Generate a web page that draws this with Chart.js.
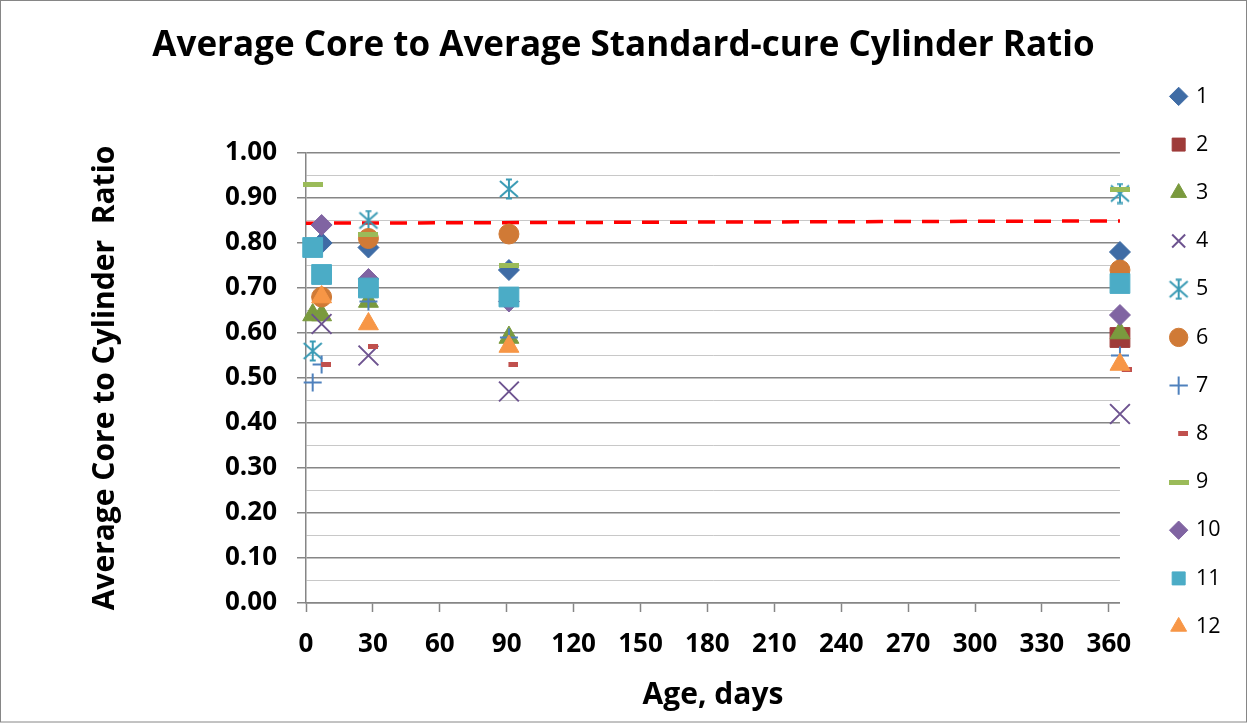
<!DOCTYPE html>
<html>
<head>
<meta charset="utf-8">
<title>Average Core to Average Standard-cure Cylinder Ratio</title>
<script src="https://cdn.jsdelivr.net/npm/chart.js@4/dist/chart.umd.min.js"></script>
<style>
  html, body { margin: 0; padding: 0; background: #fff; }
  canvas { display: block; }
</style>
</head>
<body>
<canvas id="chartRatio" width="1247" height="723"></canvas>
<script>
//* DATOS
const seriesLabels = ['1', '2', '3', '4', '5', '6', '7', '8', '9', '10', '11', '12'];
const age1 = [7, 28, 91, 365];         const ratio1 = [0.80, 0.79, 0.74, 0.78];
const age2 = [365];                    const ratio2 = [0.59];
const age3 = [3, 7, 28, 91, 365];      const ratio3 = [0.64, 0.64, 0.67, 0.59, 0.60];
const age4 = [7, 28, 91, 365];         const ratio4 = [0.62, 0.55, 0.47, 0.42];
const age5 = [3, 28, 91, 365];         const ratio5 = [0.56, 0.85, 0.92, 0.91];
const age6 = [7, 28, 91, 365];         const ratio6 = [0.68, 0.81, 0.82, 0.74];
const age7 = [3, 7, 28, 91, 365];      const ratio7 = [0.49, 0.53, 0.67, 0.59, 0.55];
const age8 = [7, 28, 91, 366];         const ratio8 = [0.53, 0.57, 0.53, 0.52];
const age9 = [3, 28, 91, 365];         const ratio9 = [0.93, 0.82, 0.75, 0.92];
const age10 = [7, 28, 91, 365];        const ratio10 = [0.84, 0.72, 0.67, 0.64];
const age11 = [3, 7, 28, 91, 365];     const ratio11 = [0.79, 0.73, 0.70, 0.68, 0.71];
const age12 = [7, 28, 91, 365];        const ratio12 = [0.68, 0.62, 0.57, 0.53];
const trendAge = [0, 365];             const trendRatio = [0.844, 0.849];

const colors = ['#3F6CA5', '#9E3B39', '#7A9A3E', '#6E5490', '#3A9BB5', '#D07A36',
                '#4F81BD', '#C0504D', '#9BBB59', '#8064A2', '#4BACC6', '#F79646'];
const gridMajor = '#868686';
const gridMinor = '#c8c8c8';
const fontFamily = "'Open Sans', 'DejaVu Sans', sans-serif";

const toPoints = (ages, ratios) => ages.map((a, i) => ({ x: a, y: ratios[i] }));
const isMajor = (v) => Math.round(v * 100) % 10 === 0;

// marcadores que Chart.js no tiene
const makeMarker = (w, h, draw) => {
    const c = document.createElement('canvas');
    c.width = w;
    c.height = h;
    draw(c.getContext('2d'));
    return c;
};
const starMarker = makeMarker(22, 22, (ctx) => {
    ctx.strokeStyle = colors[4];
    ctx.lineWidth = 2;
    ctx.beginPath();
    ctx.moveTo(2, 3); ctx.lineTo(20, 19);
    ctx.moveTo(20, 3); ctx.lineTo(2, 19);
    ctx.moveTo(11, 1); ctx.lineTo(11, 21);
    ctx.moveTo(8, 1.5); ctx.lineTo(14, 1.5);
    ctx.moveTo(8, 20.5); ctx.lineTo(14, 20.5);
    ctx.stroke();
});
// el guion de la serie 8 sale corrido a la derecha, como en Excel
const dashSmall = makeMarker(19, 5, (ctx) => { ctx.fillStyle = colors[7]; ctx.fillRect(9, 0, 10, 5); });
const dashLong = makeMarker(20, 5, (ctx) => { ctx.fillStyle = colors[8]; ctx.fillRect(0, 0, 20, 5); });

const ages = [age1, age2, age3, age4, age5, age6, age7, age8, age9, age10, age11, age12];
const ratios = [ratio1, ratio2, ratio3, ratio4, ratio5, ratio6, ratio7, ratio8, ratio9, ratio10, ratio11, ratio12];
const markers = [
    { pointStyle: 'rectRot', radius: 10.5 },
    { pointStyle: 'rect', radius: 14 },
    { pointStyle: 'triangle', radius: 11.5 },
    { pointStyle: 'crossRot', radius: 14, width: 2 },
    { pointStyle: starMarker, radius: 11 },
    { pointStyle: 'circle', radius: 10 },
    { pointStyle: 'cross', radius: 9, width: 2 },
    { pointStyle: dashSmall, radius: 5 },
    { pointStyle: dashLong, radius: 10 },
    { pointStyle: 'rectRot', radius: 10.5 },
    { pointStyle: 'rect', radius: 14 },
    { pointStyle: 'triangle', radius: 11.5 }
];

let datasets = seriesLabels.map((label, i) => ({
    label: label,
    data: toPoints(ages[i], ratios[i]),
    backgroundColor: colors[i],
    borderColor: colors[i],
    borderWidth: markers[i].width || 1,
    pointStyle: markers[i].pointStyle,
    pointRadius: markers[i].radius,
    pointBorderWidth: markers[i].width || 1,
    order: 12 - i,
    clip: false
}));
datasets.push({
    type: 'line',
    label: 'Trend',
    data: toPoints(trendAge, trendRatio),
    borderColor: '#FF0000',
    borderWidth: 3.5,
    borderDash: [17, 11],
    pointRadius: 0,
    order: 100,
    clip: false
});

// hueco entre el area del grafico y la leyenda
const legendGap = {
    id: 'legendGap',
    beforeLayout(chart, args, opts) {
        const lg = chart.legend;
        if (lg && !lg._gapWrapped) {
            const fit = lg.fit;
            lg.fit = function () { fit.call(this); this.width += opts.gap; };
            lg._gapWrapped = true;
        }
    },
    afterLayout(chart, args, opts) {
        const lg = chart.legend;
        if (lg) { lg.left += opts.gap; lg.right += opts.gap; }
    }
};
const chartFrame = {
    id: 'chartFrame',
    afterDraw(chart) {
        const c = chart.ctx;
        c.save();
        c.strokeStyle = gridMajor;
        c.lineWidth = 1;
        c.strokeRect(0.5, 0.5, chart.width - 1, chart.height - 1.5);
        c.restore();
    }
};

Chart.defaults.font.family = fontFamily;
Chart.defaults.color = '#000';

const ctxRatio = document.getElementById('chartRatio');
new Chart(ctxRatio, {
    type: 'scatter',
    data: { datasets },
    options: {
        responsive: false,
        animation: false,
        layout: { padding: { left: 16.5, right: 16.5 } },
        plugins: {
            legendGap: { gap: 25.5 },
            title: {
                display: true,
                text: 'Average Core to Average Standard-cure Cylinder Ratio',
                color: '#000',
                font: { size: 35, weight: 'bold' },
                padding: { top: 25, bottom: 86 }
            },
            legend: {
                position: 'right',
                align: 'center',
                labels: {
                    usePointStyle: true,
                    boxWidth: 13,
                    boxHeight: 13,
                    padding: 26.7,
                    color: '#000',
                    font: { size: 21.5 },
                    filter: (item) => item.text !== 'Trend',
                    sort: (a, b) => a.datasetIndex - b.datasetIndex
                }
            },
            tooltip: { enabled: false }
        },
        scales: {
            x: {
                type: 'linear',
                min: 0,
                max: 365,
                ticks: {
                    stepSize: 30,
                    includeBounds: false,
                    padding: 17,
                    color: '#000',
                    font: { size: 26, weight: 'bold' }
                },
                grid: { drawOnChartArea: false, drawTicks: true, tickLength: 9, tickColor: gridMajor, tickWidth: 1.5 },
                border: { color: gridMajor, width: 1.5 },
                title: {
                    display: true,
                    text: 'Age, days',
                    color: '#000',
                    font: { size: 30, weight: 'bold' },
                    padding: { top: 0, bottom: 10 }
                },
                afterFit: (s) => { s.height = 120; }
            },
            y: {
                min: 0,
                max: 1,
                ticks: {
                    stepSize: 0.05,
                    autoSkip: false,
                    padding: 20,
                    color: '#000',
                    font: { size: 26, weight: 'bold' },
                    callback: (v) => isMajor(v) ? v.toFixed(2) : ''
                },
                grid: {
                    tickLength: 9,
                    color: (ctx) => ctx.tick && isMajor(ctx.tick.value) ? gridMajor : gridMinor,
                    lineWidth: (ctx) => ctx.tick && isMajor(ctx.tick.value) ? 1.5 : 1,
                    tickColor: (ctx) => ctx.tick && isMajor(ctx.tick.value) ? gridMajor : 'rgba(0,0,0,0)'
                },
                border: { color: gridMajor, width: 1.5 },
                title: {
                    display: true,
                    text: 'Average Core to Cylinder  Ratio',
                    color: '#000',
                    font: { size: 30, weight: 'bold' },
                    padding: { top: 70.5, bottom: 0 }
                },
                afterFit: (s) => { s.width = 289.5; }
            }
        }
    },
    plugins: [legendGap, chartFrame]
});
</script>
</body>
</html>
